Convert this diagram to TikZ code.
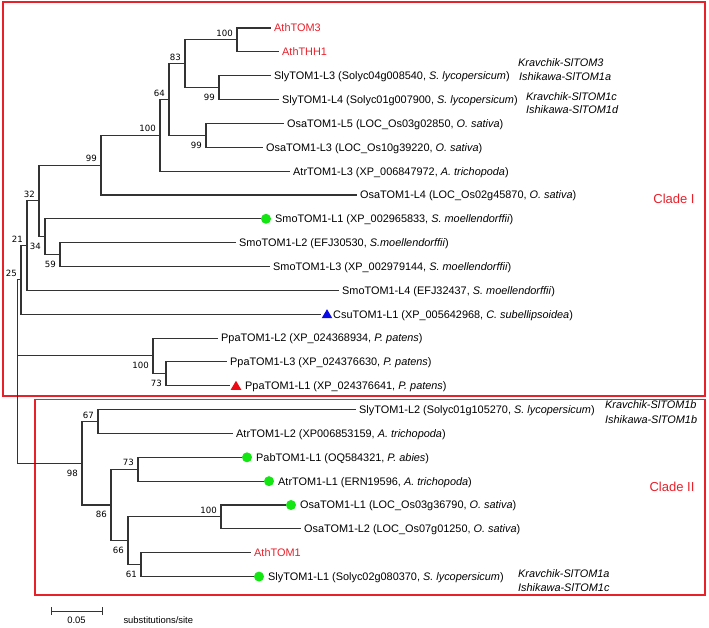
\documentclass[tikz,border=0pt]{standalone}
\usepackage{fontspec}
\setmainfont{Liberation Sans}
\newfontfamily\tahfont{DejaVu Sans}
\usepackage{tikz}
\usetikzlibrary{calc}
\definecolor{cladered}{RGB}{232,32,42}
\definecolor{dotgreen}{RGB}{20,230,20}
\definecolor{triblue}{RGB}{10,10,230}
\definecolor{trired}{RGB}{238,10,20}
\newcommand\leaffnt{\fontsize{10.9}{13}\selectfont}
\newcommand\bootfnt{\tahfont\fontsize{8.6}{10}\selectfont}
\newcommand\cladefnt{\fontsize{13}{15}\selectfont}
\newcommand\scalefnt{\fontsize{9.4}{11}\selectfont}

\begin{document}
\begin{tikzpicture}[x=1pt,y=-1pt]
  \tikzstyle{branch} = [line width=1.1pt, draw=black!80, line cap=rect]
  \tikzstyle{leaf} = [anchor=west, inner sep=0pt, text height=7.8pt, text depth=0pt, font=\leaffnt]
  \tikzstyle{note} = [leaf, font=\leaffnt\itshape]
  \tikzstyle{boot} = [anchor=east, inner sep=0pt, font=\bootfnt]
  \tikzstyle{bootup} = [boot, xshift=-4pt, yshift=6.5pt]
  \tikzstyle{bootdn} = [boot, xshift=-4pt, yshift=-9.8pt]
  \tikzstyle{dot} = [circle, fill=dotgreen, inner sep=0pt, minimum size=10pt]
  \tikzstyle{cladebox} = [draw=cladered, color=cladered, line width=1.1pt]
  \useasboundingbox (0,0) rectangle (709,627);
  %Leaf tips, one row every 23.85
  \foreach \i/\x in {1/270,2/278,3/270,4/278,5/283,6/262,7/289,8/356,9/260,10/235,11/269,12/338,13/320,14/217,15/226,16/229,17/355,18/232,19/241,20/263,21/285,22/300,23/250,24/253}
    \coordinate (l\i) at (\x,{28+(\i-1)*23.85});
  %Inner nodes
  \coordinate (n1) at (237,39.93);
  \coordinate (n2) at (219,87.63);
  \coordinate (n3) at (185,63.78);
  \coordinate (n4) at (206,135.33);
  \coordinate (n5) at (169,99.55);
  \coordinate (n6) at (160,135.33);
  \coordinate (n7) at (101,165.14);
  \coordinate (n8) at (60,254.58);
  \coordinate (n9) at (45,236.69);
  \coordinate (n10) at (39,200.91);
  \coordinate (n11) at (27,245.63);
  \coordinate (n12) at (21,279.92);
  \coordinate (n13) at (166,373.83);
  \coordinate (n14) at (153,355.94);
  \coordinate (n15) at (98,421.53);
  \coordinate (n16) at (138,469.23);
  \coordinate (n17) at (221,516.93);
  \coordinate (n18) at (141,564.63);
  \coordinate (n19) at (128,540.78);
  \coordinate (n20) at (111,505.0);
  \coordinate (n21) at (82,463.27);
  \coordinate (root) at (17.5,371.6);
  %Draw the clade frames
  \draw[cladebox] (3,2) rectangle (705,396);
  \draw[cladebox] (35,399.5) rectangle (705,595);
  %Draw branches
  \draw[branch] (l1) -| (n1) |- (l2);
  \draw[branch] (l3) -| (n2) |- (l4);
  \draw[branch] (n1) -| (n3) |- (n2);
  \draw[branch] (l5) -| (n4) |- (l6);
  \draw[branch] (n3) -| (n5) |- (n4);
  \draw[branch] (n5) -| (n6) |- (l7);
  \draw[branch] (n6) -| (n7) |- (l8);
  \draw[branch] (l10) -| (n8) |- (l11);
  \draw[branch] (l9) -| (n9) |- (n8);
  \draw[branch] (n7) -| (n10) |- (n9);
  \draw[branch] (n10) -| (n11) |- (l12);
  \draw[branch] (n11) -| (n12) |- (l13);
  \draw[branch] (l15) -| (n13) |- (l16);
  \draw[branch] (l14) -| (n14) |- (n13);
  \draw[branch] (l17) -| (n15) |- (l18);
  \draw[branch] (l19) -| (n16) |- (l20);
  \draw[branch] (l21) -| (n17) |- (l22);
  \draw[branch] (l23) -| (n18) |- (l24);
  \draw[branch] (n17) -| (n19) |- (n18);
  \draw[branch] (n16) -| (n20) |- (n19);
  \draw[branch] (n15) -| (n21) |- (n20);
  \draw[branch] (n12) -| (root) |- (n21);
  \draw[branch] (root |- n14) -- (n14);
  %Bootstrap values
  \node[bootup] (b1) at (n1) {100};
  \node[bootdn] (b2) at (n2) {99};
  \node[bootup] (b3) at (n3) {83};
  \node[bootdn] (b4) at (n4) {99};
  \node[bootup] (b5) at (n5) {64};
  \node[bootup] (b6) at (n6) {100};
  \node[bootup] (b7) at (n7) {99};
  \node[bootdn] (b8) at (n8) {59};
  \node[bootdn] (b9) at (n9) {34};
  \node[bootup] (b10) at (n10) {32};
  \node[bootup] (b11) at (n11) {21};
  \node[bootup] (b12) at (n12) {25};
  \node[bootdn] (b13) at (n13) {73};
  \node[bootdn] (b14) at (n14) {100};
  \node[bootup] (b15) at (n15) {67};
  \node[bootup] (b16) at (n16) {73};
  \node[bootup] (b17) at (n17) {100};
  \node[bootdn] (b18) at (n18) {61};
  \node[bootdn] (b19) at (n19) {66};
  \node[bootdn] (b20) at (n20) {86};
  \node[bootdn] (b21) at (n21) {98};
  %Markers
  \node[dot] (d9) at ([xshift=6pt]l9) {};
  \node[dot] (d19) at ([xshift=6pt]l19) {};
  \node[dot] (d20) at ([xshift=6pt]l20) {};
  \node[dot] (d21) at ([xshift=6pt]l21) {};
  \node[dot] (d24) at ([xshift=6pt]l24) {};
  \fill[triblue] ([shift={(7,-5)}]l13) -- ++(5.3,9) -- ++(-10.6,0) -- cycle;
  \fill[trired] ([shift={(7,-5)}]l16) -- ++(5.3,9) -- ++(-10.6,0) -- cycle;
  %Leaf labels
  \node[leaf, xshift=4pt, text=cladered] (t1) at (l1) {AthTOM3};
  \node[leaf, xshift=4pt, text=cladered] (t2) at (l2) {AthTHH1};
  \node[leaf, xshift=4pt] (t3) at (l3) {SlyTOM1-L3 (Solyc04g008540, \textit{S. lycopersicum})};
  \node[leaf, xshift=4pt] (t4) at (l4) {SlyTOM1-L4 (Solyc01g007900, \textit{S. lycopersicum})};
  \node[leaf, xshift=4pt] (t5) at (l5) {OsaTOM1-L5 (LOC\_Os03g02850, \textit{O. sativa})};
  \node[leaf, xshift=4pt] (t6) at (l6) {OsaTOM1-L3 (LOC\_Os10g39220, \textit{O. sativa})};
  \node[leaf, xshift=4pt] (t7) at (l7) {AtrTOM1-L3 (XP\_006847972, \textit{A. trichopoda})};
  \node[leaf, xshift=4pt] (t8) at (l8) {OsaTOM1-L4 (LOC\_Os02g45870, \textit{O. sativa})};
  \node[leaf, xshift=15pt] (t9) at (l9) {SmoTOM1-L1 (XP\_002965833, \textit{S. moellendorffii})};
  \node[leaf, xshift=4pt] (t10) at (l10) {SmoTOM1-L2 (EFJ30530, \textit{S.moellendorffii})};
  \node[leaf, xshift=4pt] (t11) at (l11) {SmoTOM1-L3 (XP\_002979144, \textit{S. moellendorffii})};
  \node[leaf, xshift=4pt] (t12) at (l12) {SmoTOM1-L4 (EFJ32437, \textit{S. moellendorffii})};
  \node[leaf, xshift=13pt] (t13) at (l13) {CsuTOM1-L1 (XP\_005642968, \textit{C. subellipsoidea})};
  \node[leaf, xshift=4pt] (t14) at (l14) {PpaTOM1-L2 (XP\_024368934, \textit{P. patens})};
  \node[leaf, xshift=4pt] (t15) at (l15) {PpaTOM1-L3 (XP\_024376630, \textit{P. patens})};
  \node[leaf, xshift=16pt] (t16) at (l16) {PpaTOM1-L1 (XP\_024376641, \textit{P. patens})};
  \node[leaf, xshift=4pt] (t17) at (l17) {SlyTOM1-L2 (Solyc01g105270, \textit{S. lycopersicum})};
  \node[leaf, xshift=4pt] (t18) at (l18) {AtrTOM1-L2 (XP006853159, \textit{A. trichopoda})};
  \node[leaf, xshift=15pt] (t19) at (l19) {PabTOM1-L1 (OQ584321, \textit{P. abies})};
  \node[leaf, xshift=15pt] (t20) at (l20) {AtrTOM1-L1 (ERN19596, \textit{A. trichopoda})};
  \node[leaf, xshift=15pt] (t21) at (l21) {OsaTOM1-L1 (LOC\_Os03g36790, \textit{O. sativa})};
  \node[leaf, xshift=4pt] (t22) at (l22) {OsaTOM1-L2 (LOC\_Os07g01250, \textit{O. sativa})};
  \node[leaf, xshift=4pt, text=cladered] (t23) at (l23) {AthTOM1};
  \node[leaf, xshift=15pt] (t24) at (l24) {SlyTOM1-L1 (Solyc02g080370, \textit{S. lycopersicum})};
  %Tomato gene names
  \node[note] (k3a) at (518,63) {Kravchik-SlTOM3};
  \node[note] (k3b) at (519,77) {Ishikawa-SlTOM1a};
  \node[note] (k4a) at (526,97) {Kravchik-SlTOM1c};
  \node[note] (k4b) at (526,110) {Ishikawa-SlTOM1d};
  \node[note] (k17a) at (605,405) {Kravchik-SlTOM1b};
  \node[note] (k17b) at (605,420) {Ishikawa-SlTOM1b};
  \node[note] (k24a) at (518,574) {Kravchik-SlTOM1a};
  \node[note] (k24b) at (518,588) {Ishikawa-SlTOM1c};
  %Clade names
  \node[font=\cladefnt, text=cladered] (c1) at (674,199) {Clade I};
  \node[font=\cladefnt, text=cladered] (c2) at (672,487) {Clade II};
  %Scale bar
  \coordinate (s1) at (51,611);
  \coordinate (s2) at (102,611);
  \draw[branch, line width=1pt] (s1) -- (s2);
  \draw[branch, line width=1pt] ([yshift=3.5pt]s1) -- ([yshift=-3.5pt]s1);
  \draw[branch, line width=1pt] ([yshift=3.5pt]s2) -- ([yshift=-3.5pt]s2);
  \node[font=\scalefnt] (s0) at ($(s1)!.5!(s2)+(0,9)$) {0.05};
  \node[font=\scalefnt, anchor=west] (su) at (120,620) {substitutions/site};
\end{tikzpicture}
\end{document}
